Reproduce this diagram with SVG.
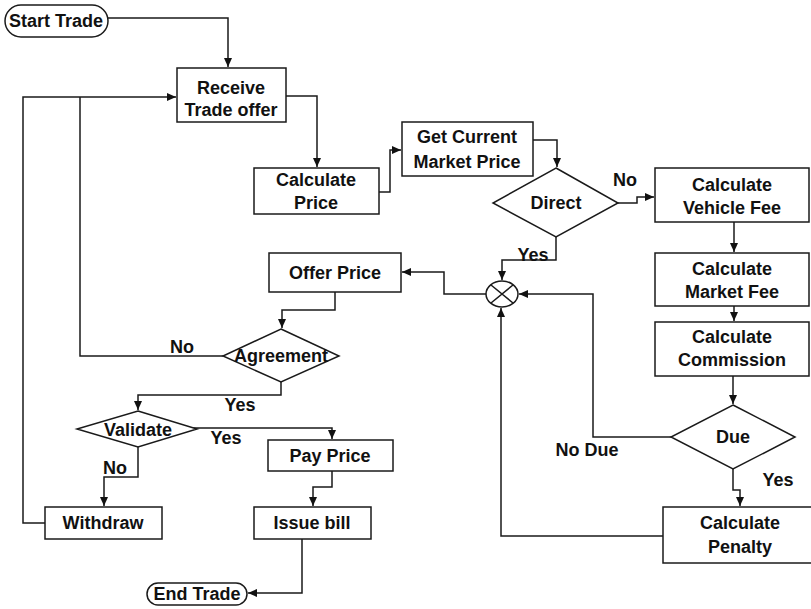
<svg xmlns="http://www.w3.org/2000/svg" width="811" height="609" viewBox="0 0 811 609">
<style>
.n{fill:#fff;stroke:#1a1a1a;stroke-width:1.5}
.t{font-family:"Liberation Sans",Arial,sans-serif;font-weight:bold;font-size:18px;fill:#111;text-anchor:middle}
.c{fill:none;stroke:#1a1a1a;stroke-width:1.5}
</style>
<defs>
<marker id="a" markerUnits="userSpaceOnUse" markerWidth="10" markerHeight="10" refX="9" refY="4" orient="auto">
<path d="M0,0 L9,4 L0,8 Z" fill="#111"/>
</marker>
</defs>
<rect width="811" height="609" fill="#fff"/>
<g id="connectors">
<path class="c" d="M108,18 H228 V67" marker-end="url(#a)"/>
<path class="c" d="M286,96 H317 V167" marker-end="url(#a)"/>
<path class="c" d="M379,192 H390 V150 H401" marker-end="url(#a)"/>
<path class="c" d="M533,140 H557 V167" marker-end="url(#a)"/>
<path class="c" d="M618,203 H637 V197 H654" marker-end="url(#a)"/>
<path class="c" d="M734,222 V252" marker-end="url(#a)"/>
<path class="c" d="M734,306 V321" marker-end="url(#a)"/>
<path class="c" d="M733,376 V404" marker-end="url(#a)"/>
<path class="c" d="M733,469 V490 H740 V506" marker-end="url(#a)"/>
<path class="c" d="M671,437 H593 V294 H519" marker-end="url(#a)"/>
<path class="c" d="M663,536 H501 V308" marker-end="url(#a)"/>
<path class="c" d="M556,237 V260 H502 V280" marker-end="url(#a)"/>
<path class="c" d="M486,294 H444 V272 H402" marker-end="url(#a)"/>
<path class="c" d="M335,292 V310 H282 V328" marker-end="url(#a)"/>
<path class="c" d="M223,356 H80 V97"/>
<path class="c" d="M45,523 H23 V97 H176" marker-end="url(#a)"/>
<path class="c" d="M281,382 V395 H138 V410" marker-end="url(#a)"/>
<path class="c" d="M190,428 H332 V439" marker-end="url(#a)"/>
<path class="c" d="M138,447 V477 H104 V506" marker-end="url(#a)"/>
<path class="c" d="M332,471 V487 H313 V506" marker-end="url(#a)"/>
<path class="c" d="M302,539 V593 H248" marker-end="url(#a)"/>
<text class="t" x="625" y="186">No</text>
<text class="t" x="533" y="261">Yes</text>
<text class="t" x="182" y="353">No</text>
<text class="t" x="240" y="411">Yes</text>
<text class="t" x="226" y="444">Yes</text>
<text class="t" x="115" y="474">No</text>
<text class="t" x="587" y="456">No Due</text>
<text class="t" x="778" y="486">Yes</text>
</g>
<g id="start"><rect class="n" x="5" y="5" width="103" height="32" rx="16"/><text class="t" x="56" y="27">Start Trade</text></g>
<g id="receive"><rect class="n" x="177" y="68" width="109" height="54"/><text class="t" x="231" y="94">Receive</text><text class="t" x="231" y="116">Trade offer</text></g>
<g id="calcprice"><rect class="n" x="254" y="168" width="125" height="46"/><text class="t" x="316" y="186">Calculate</text><text class="t" x="316" y="209">Price</text></g>
<g id="getprice"><rect class="n" x="402" y="122" width="131" height="54"/><text class="t" x="467" y="143">Get Current</text><text class="t" x="467" y="168">Market Price</text></g>
<g id="direct"><polygon class="n" points="556,168 618,203 556,237 493,203"/><text class="t" x="556" y="209">Direct</text></g>
<g id="vehicle"><rect class="n" x="655" y="168" width="154" height="54"/><text class="t" x="732" y="191">Calculate</text><text class="t" x="732" y="214">Vehicle Fee</text></g>
<g id="market"><rect class="n" x="655" y="253" width="154" height="53"/><text class="t" x="732" y="275">Calculate</text><text class="t" x="732" y="298">Market Fee</text></g>
<g id="commission"><rect class="n" x="655" y="322" width="154" height="54"/><text class="t" x="732" y="343">Calculate</text><text class="t" x="732" y="366">Commission</text></g>
<g id="due"><polygon class="n" points="733,405 795,437 733,469 671,437"/><text class="t" x="733" y="443">Due</text></g>
<g id="penalty"><rect class="n" x="663" y="507" width="160" height="56"/><text class="t" x="740" y="529">Calculate</text><text class="t" x="740" y="553">Penalty</text></g>
<g id="merge"><ellipse class="n" cx="502" cy="294" rx="16" ry="13"/><path class="c" d="M491,285 L513,303 M513,285 L491,303"/></g>
<g id="offer"><rect class="n" x="269" y="253" width="132" height="39"/><text class="t" x="335" y="279">Offer Price</text></g>
<g id="agreement"><polygon class="n" points="281,329 339,356 281,382 223,356"/><text class="t" x="281" y="362">Agreement</text></g>
<g id="validate"><polygon class="n" points="138,411 197,429 138,447 77,429"/><text class="t" x="138" y="436">Validate</text></g>
<g id="pay"><rect class="n" x="268" y="440" width="125" height="31"/><text class="t" x="330" y="462">Pay Price</text></g>
<g id="issue"><rect class="n" x="254" y="507" width="117" height="32"/><text class="t" x="312" y="529">Issue bill</text></g>
<g id="withdraw"><rect class="n" x="45" y="507" width="117" height="32"/><text class="t" x="103" y="529">Withdraw</text></g>
<g id="end"><rect class="n" x="147" y="583" width="100" height="22" rx="11"/><text class="t" x="197" y="600">End Trade</text></g>
</svg>
